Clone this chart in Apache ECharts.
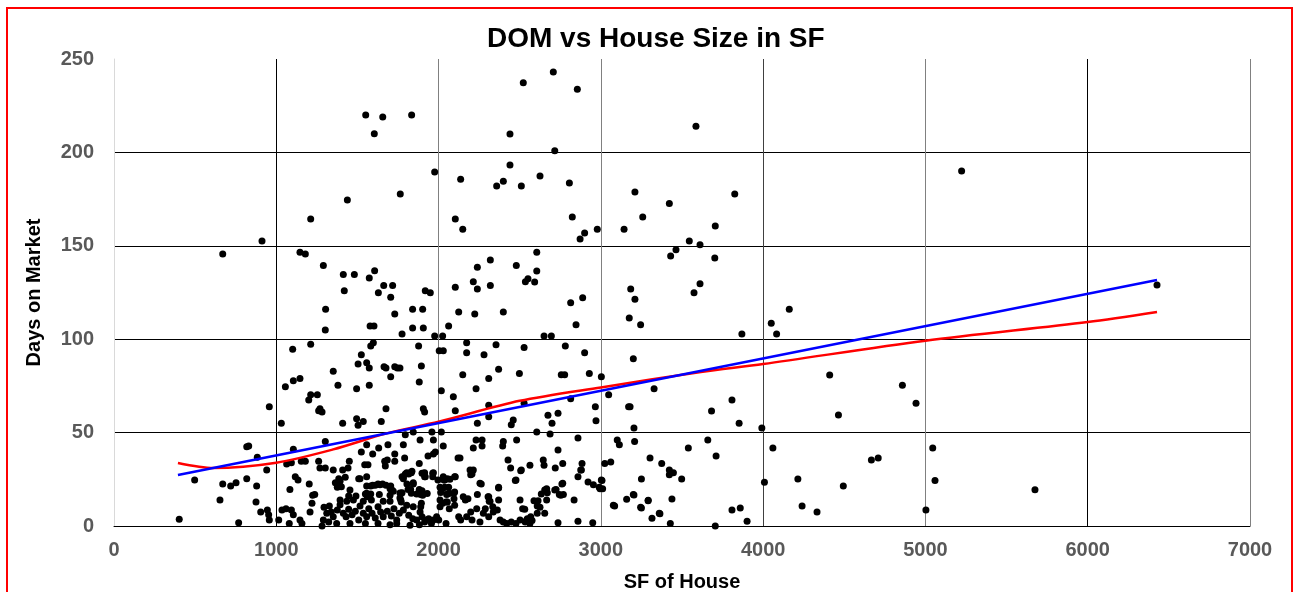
<!DOCTYPE html>
<html>
<head>
<meta charset="utf-8">
<title>DOM vs House Size in SF</title>
<script src="https://cdn.jsdelivr.net/npm/echarts@6.0.0/dist/echarts.min.js"></script>
<style>
	html, body { margin: 0; padding: 0; background: #fff; overflow: hidden; }
	#domChart { position: absolute; left: 0; top: 0; width: 1294px; height: 592px; }
	#frame { position: absolute; left: 6px; top: 7px; width: 1283px; height: 590px; border: 2px solid #ff0000; border-bottom: none; pointer-events: none; }
</style>
</head>
<body>
<div id="domChart"></div>
<div id="frame"></div>
<script>
// house size (sq ft) and days on market
var houseSize = [
	1551,1656,1834,1604,1976,1764,1438,1212,912,670,1146,1179,1290,1413,1481,1606,1573,1662,1717,1419,1629,1705,1918,1949,1304,1840,1902,
	2707,2522,2855,2440,3586,2716,2440,2136,2358,2399,2510,2625,2806,3210,3825,3422,2103,2149,2824,2900,2872,2978,3143,3258,3705,3545,3611,3463,3430,3702,2605,2319,2239,2479,2605,2214,2239,2319,2103,2535,2551,2592,3184,3210,3574,3611,2814,2888,4161,5223,6427,
	3869,4050,4083,4410,4858,4942,3808,3682,3852,3992,4464,3659,3710,4060,5045,4667,4709,4008,4214,4494,5059,5675,3808,3859,3901,3705,4240,4332,5003,
	3180,3204,3208,3539,3303,3375,3422,3447,3422,3250,3498,3204,3292,3438,3250,3315,3364,3428,
	2124,2223,2399,2062,1775,2650,2695,2847,3175,3245,
	2173,2354,2527,2781,2173,2280,2900,1877,1762,2149,2370,2498,2756,2777,2929,3003,3200,2309,2231,2091,2814,3048,3328,2103,2309,2309,2527,2674,2736,2966,2970,3171,2239,2460,2448,2699,2605,2687,
	1886,1968,2231,2268,2399,2395,2481,2859,2029,2214,2268,1783,2736,3101,3114,1791,1881,1968,1980,2120,2132,2428,2563,2645,2650,2719,2765,2884,2444,2510,3024,3061,1804,1824,1906,1968,1783,1844,2054,2103,2198,2214,2255,2370,2473,2654,2670,2724,2765,2859,2876,2921,2954,2995,3007,
	1762,1881,1930,2013,2058,2095,2152,2181,2239,2305,2312,2370,2502,2588,2666,2753,2835,3085,3159,3200,3245,3291,3360,2859,2736,2950,2608,2625,2531,2543,2568,
	879,875,904,945,953,957,1015,1035,1060,1093,1105,1080,1146,1158,1084,1117,1134,1203,1224,1220,1208,1282,1364,1393,1425,1376,1446,1491,1549,1561,1516,1557,1454,1582,1610,1639,1676,1701,1582,1701,1721,1762,1775,1812,1832,1865,1890,1898,1783,1816,1836,1898,1918,1964,1964,1770,1894,2038,2038,2062,2054,2025,2046,
	1294,1311,1327,1339,1351,1376,1393,1413,1430,1446,1467,1487,1508,1516,1536,1557,1570,1590,1610,1627,1643,1659,1684,1709,1725,1742,1758,1783,1816,1841,1865,1886,1898,1922,1939,1968,1988,2001,
	1290,1323,1372,1454,1549,1627,1701,1742,1824,1882,1914,1956,
	2099,2070,2033,2206,2194,2009,2050,2099,2095,2165,2263,2309,2317,2370,2477,2506,2518,2613,2608,2654,2633,2658,2666,2716,2744,2769,2760,2990,3011,3003,2880,3077,
	2009,2046,2066,2099,2124,2136,2173,2198,2206,2235,2255,2276,2288,2309,2334,2337,2362,2379,2399,2420,2448,2477,2502,2534,2547,2563,2576,
	402,768,497,653,670,719,752,818,818,830,883,941,957,1031,1056,1105,1146,1101,1212,1200,1212,1253,1269,1282,1261,1302,1351,1380,1409,1495,1504,1536,1495,1524,1504,1557,1573,1573,1578,1602,1598,1582,1647,1664,1676,1730,1746,1705,1676,1730,1840,1906,1976,2025,2004,2029,1894,1881,2017,1906,1914,1959,2017,1795,1844,
	1302,1105,1557,1631,1688,1524,1594,1730,1935,1154,1179,1261,1450,1545,1565,1668,1684,1730,1064,1093,1269,1302,1351,1409,1442,1672,1385,1508,1775,1795,1832,1805,1844,1914,1914,1996,2029,1401,1557,1594,1627,1655,1705,1713,1557,1635,1770,1828,1881,1902,2025,2066,1237,
	1393,1434,1475,1536,1586,1659,1701,1767,1804,1844,1890,2009
];
var daysOnMarket = [
	220,219,220,210,189.5,177.7,174.5,164.3,152.6,145.6,146.5,145.6,139.5,134.7,134.7,136.7,132.8,128.8,128.8,126,124.9,122.4,126,124.9,116,116,116,
	243,237.3,233.8,209.8,214,200.9,193.2,185.6,182,184.5,182,187.4,183.6,178.8,177.7,172.7,164.3,158.8,165.4,156.8,153.6,158.8,158.8,165.4,160.6,152.6,150.6,147.9,144.5,143.5,146.5,142.4,138.5,139.5,136.5,130.8,126.9,128.8,127.8,130.8,132.4,130.6,126.9,121.4,124.9,129.7,119.5,122.2,116,190,129,
	102.8,108.5,102.8,80.8,75.3,65.7,67.4,61.6,55,52.5,59.4,46,37.5,41.8,41.8,35.3,36.4,23.4,25.2,21.4,24.3,19.4,8.6,9.6,2.5,0,10.7,7.5,8.6,
	63.9,52.5,45.3,41.8,36.4,33.5,30,28.5,27.5,25.2,25.2,16.6,13.8,14.5,9.6,4.1,6.6,1.4,
	114.6,113.5,114.6,107,102.8,101.7,101.7,107.8,111.3,107.8,
	98.1,97,95.6,96.4,92.8,91.7,92.8,96.4,84.6,81,83.9,81.7,81,81,81.7,79.9,89.6,78.9,73.5,69.2,68.1,70.3,73.5,61.7,64.6,58.5,65.7,59.3,60.3,63.9,56.4,63.9,55,56.7,54.2,55,50.3,49.2,
	46,46,46,46,45.3,42.8,46,47.1,42.8,41.8,42.8,43.5,40.7,46,43.5,36.4,33.5,38.5,39.6,36.4,36.4,35.3,32.5,35.3,32.5,31,33.5,33.5,31,30,33.5,34.3,28.5,28.5,28.2,28.5,25.3,23.2,25.3,26.4,27.5,30,22.9,20.3,24.3,19.3,17.8,19.6,22.9,26.4,30,23.6,22.1,20,24.3,
	17.7,18.2,17.4,17.9,17.2,17.6,15.7,14.6,16.8,15.7,13.2,13.9,13.9,13.5,13.9,16.4,13.9,10.7,14.3,16.8,10,13.5,6.8,2.5,1.8,1.8,6.8,10,8.9,3.2,5,
	21.4,12.8,7.5,8.6,6,3.2,3.2,8.6,9.3,8.6,6,1.4,3.2,1.4,19.6,26.4,24.6,22.5,16.4,12.2,7.5,0,23.2,23.9,26.1,20.7,16.1,16.1,17.1,15.7,25.3,26.4,19.3,21.4,21.8,22.1,21.8,20,17.1,16.4,18.6,15,17.8,19.6,17.5,17.1,16.8,18.9,26.4,27.8,29.3,28.2,26.4,28.2,26.4,12.8,12.2,24.6,20.7,20.7,12.8,12.2,1.4,
	10,6.8,10.7,7.5,5,8.6,11.4,6.8,5,8.9,6,7.9,3.2,10.7,6.8,5,9.3,6.8,4.3,10.3,7.5,5,7.9,5.4,9.3,3.2,6.8,8.6,5.7,3.9,3.2,7.5,5,3.2,3.9,3.2,5,3.2,
	3.2,2.1,1.4,1.4,1.4,1.4,0.7,1.4,0.4,0.7,2.1,1.4,
	26.4,25,24.6,27.8,30,20.7,16.8,18.2,14.6,13.9,22.5,15.7,13.2,20.7,24.6,29.6,9.3,13.5,10.7,6.8,17.1,19.3,20,19.3,16.8,16.8,22.5,20.7,20,24.6,30,11.1,
	10.3,12.8,9.3,11.1,5,3.2,5,7.5,3.2,9.3,2.1,6.8,9.3,5,10.3,7.5,8.6,3.2,2.1,1.4,2.1,1.4,3.2,2.1,3.9,1.4,2.9,
	3.6,1.8,24.6,13.9,22.5,21.4,23.2,25.3,42.4,42.8,36.8,30,63.9,55,74.6,77.8,78.9,94.6,97.3,67.4,70.3,70.3,62.8,61,61.7,104.9,82.8,75.3,55,57.4,53.9,56,73.5,91.7,86.7,87.4,84.6,75.3,107,107,98.1,96.4,56,85.3,84.6,85.3,84.6,79.9,62.8,113.5,106,106,101.7,101.7,93.8,93.8,85.6,77.1,72.4,62.8,61,50.3,50.3,48.9,50.3,
	45.3,41.1,43.5,41.8,43.5,39.6,38.5,38.5,37.5,34.6,34.6,34.6,34.6,32.8,32.8,34.6,35.3,34.6,33.2,33.9,31,31,30,30,31,32.1,25.3,25.3,26.4,27.8,28.5,22.5,22.5,28.5,26.4,24.6,26.4,21,21.4,21.8,22.5,22.5,21.4,19.3,17.5,16.8,17.5,19.6,19.6,16.4,20,17.5,16.8,
	13.9,13.2,13.9,13.2,13.9,13.2,13.2,13.9,11.1,10.3,10.3,13.9
];

// linear trend (blue) and smoothed trend (red)
var linearX = [394, 6427];
var linearY = [27.3, 131.7];
var smoothX = [394, 612, 1000, 1351, 1680, 2000, 2500, 3000, 3616, 4000, 5000, 6000, 6427];
var smoothY = [33.7, 31, 33.9, 41, 49.6, 55.8, 67, 74.2, 82.4, 86.7, 99.2, 109.2, 114.6];

var xTicks = [0, 7000, 1000];
var yTicks = [0, 250, 50];

function zip(xs, ys) {
	var out = [];
	for (var i = 0; i < xs.length; i++) {
		out.push([xs[i], ys[i]]);
	}
	return out;
}

var fontName = 'Liberation Sans, Arial, sans-serif';

var domChart = echarts.init(document.getElementById("domChart"));
var domOption = {
	animation : false,
	title : {
		text : 'DOM vs House Size in SF',
		left : 482,
		top : 20,
		textStyle : {
			fontFamily : fontName,
			fontSize : 28,
			fontWeight : 'bold',
			color : '#000'
		}
	},
	grid : {
		left : 114,
		right : 44,
		top : 59,
		bottom : 66,
		outerBoundsMode : 'none'
	},
	xAxis : {
		type : 'value',
		min : xTicks[0],
		max : xTicks[1],
		interval : xTicks[2],
		name : 'SF of House',
		nameLocation : 'middle',
		nameGap : 46,
		nameTextStyle : {
			fontFamily : fontName,
			fontSize : 20,
			fontWeight : 'bold',
			color : '#000'
		},
		axisLine : { show : true, lineStyle : { color : '#000', width : 1 } },
		axisTick : { show : false },
		axisLabel : {
			fontFamily : fontName,
			fontSize : 20,
			fontWeight : 'bold',
			color : '#595959',
			margin : 14,
			formatter : function (v) { return String(v); }
		},
		splitLine : {
			show : true,
			lineStyle : {
				color : ['#d9d9d9', '#000', '#808080', '#808080', '#404040', '#808080', '#000', '#808080'],
				width : 1
			}
		}
	},
	yAxis : {
		type : 'value',
		min : yTicks[0],
		max : yTicks[1],
		interval : yTicks[2],
		name : 'Days on Market',
		nameLocation : 'middle',
		nameGap : 70,
		nameTextStyle : {
			fontFamily : fontName,
			fontSize : 20,
			fontWeight : 'bold',
			color : '#000'
		},
		axisLine : { show : true, lineStyle : { color : '#d9d9d9', width : 1 } },
		axisTick : { show : false },
		axisLabel : {
			fontFamily : fontName,
			fontSize : 20,
			fontWeight : 'bold',
			color : '#595959',
			margin : 20,
			formatter : function (v) { return String(v); }
		},
		splitLine : {
			show : true,
			lineStyle : {
				color : ['#000', '#000', '#000', '#000', '#000', 'rgba(0,0,0,0)'],
				width : 1
			}
		}
	},
	series : [
		{
			name : 'Listings',
			type : 'scatter',
			symbol : 'circle',
			symbolSize : 7,
			itemStyle : { color : '#000', opacity : 1 },
			data : zip(houseSize, daysOnMarket)
		},
		{
			name : 'Smoothed',
			type : 'line',
			smooth : 0.3,
			showSymbol : false,
			lineStyle : { color : '#ff0000', width : 2.5 },
			data : zip(smoothX, smoothY)
		},
		{
			name : 'Linear',
			type : 'line',
			showSymbol : false,
			lineStyle : { color : '#0000ff', width : 2.5 },
			data : zip(linearX, linearY)
		}
	]
};
domChart.setOption(domOption);
window.addEventListener('resize', domChart.resize);
</script>
</body>
</html>
